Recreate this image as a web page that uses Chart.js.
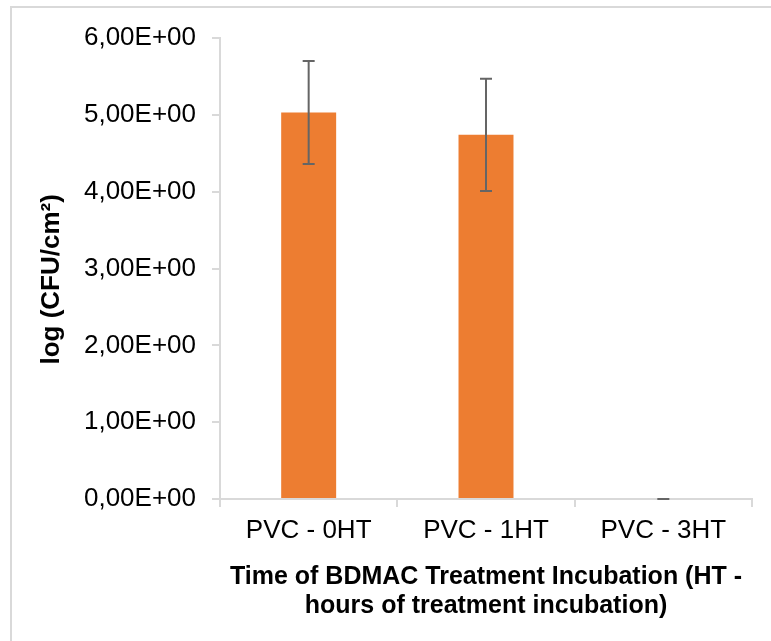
<!DOCTYPE html>
<html>
<head>
<meta charset="utf-8">
<script src="https://cdn.jsdelivr.net/npm/chart.js@4.4.0/dist/chart.umd.min.js"></script>
<style>
  html, body { margin: 0; padding: 0; background: #fff; }
  .wrap { position: relative; width: 771px; height: 641px; overflow: hidden; }
  .frame { position: absolute; left: 10px; top: 6px; width: 900px; height: 800px;
           border-left: 2px solid #d9d9d9; border-top: 2px solid #d9d9d9; }
  canvas { position: absolute; left: 0; top: 0; }
</style>
</head>
<body>
<div class="wrap">
  <div class="frame"></div>
  <canvas id="cfuChart" width="771" height="641"></canvas>
</div>
<script>
const categories = ["PVC - 0HT", "PVC - 1HT", "PVC - 3HT"];
const logCfu = [5.03, 4.74, 0];
const stdErr = [0.67, 0.73, 0];
const yTicks = [0, 1, 2, 3, 4, 5, 6];

const axisGray = "#d9d9d9";
const font = "'Liberation Sans', Arial, sans-serif";

// excel style scientific label, e.g. 5,00E+00
function sci(v) {
  let e = v === 0 ? 0 : Math.floor(Math.log10(Math.abs(v)));
  let m = v / Math.pow(10, e);
  let sign = e < 0 ? "-" : "+";
  let exp = String(Math.abs(e)).padStart(2, "0");
  return m.toFixed(2).replace(".", ",") + "E" + sign + exp;
}

// whiskers on top of the bars
const errorBars = {
  id: "errorBars",
  afterDatasetsDraw(chart) {
    const ctx = chart.ctx;
    const y = chart.scales.y;
    const meta = chart.getDatasetMeta(0);
    ctx.save();
    ctx.strokeStyle = "#656565";
    ctx.lineWidth = 2;
    meta.data.forEach((bar, i) => {
      const top = y.getPixelForValue(logCfu[i] + stdErr[i]);
      const bot = y.getPixelForValue(logCfu[i] - stdErr[i]);
      const half = 6;
      ctx.beginPath();
      ctx.moveTo(bar.x, top);
      ctx.lineTo(bar.x, bot);
      ctx.moveTo(bar.x - half, top);
      ctx.lineTo(bar.x + half, top);
      ctx.moveTo(bar.x - half, bot);
      ctx.lineTo(bar.x + half, bot);
      ctx.stroke();
    });
    ctx.restore();
  },
};

new Chart(document.getElementById("cfuChart"), {
  type: "bar",
  data: {
    labels: categories,
    datasets: [
      {
        data: logCfu,
        backgroundColor: "#ED7D31",
        barPercentage: 0.31,
        categoryPercentage: 1,
      },
    ],
  },
  options: {
    responsive: false,
    animation: false,
    layout: { padding: { top: 38, right: 19, left: 0, bottom: 0 } },
    plugins: { legend: { display: false }, tooltip: { enabled: false } },
    scales: {
      x: {
        afterFit: (axis) => { axis.height = 142; },
        border: { color: axisGray, width: 2 },
        grid: { drawOnChartArea: false, color: axisGray, tickLength: 8, lineWidth: 2 },
        ticks: { color: "#000", padding: 8, font: { family: font, size: 26 } },
        title: {
          display: true,
          text: ["Time of BDMAC Treatment Incubation (HT -", "hours of treatment incubation)"],
          color: "#000",
          font: { family: font, size: 25, weight: "bold", lineHeight: 1.16 },
          padding: { top: 0, bottom: 20 },
        },
      },
      y: {
        min: 0,
        max: 6,
        afterFit: (axis) => { axis.width = 220; },
        afterBuildTicks: (axis) => { axis.ticks = yTicks.map((v) => ({ value: v })); },
        border: { color: axisGray, width: 2 },
        grid: { drawOnChartArea: false, color: axisGray, tickLength: 8, lineWidth: 2 },
        ticks: {
          color: "#000",
          padding: 16,
          font: { family: font, size: 26 },
          callback: (v) => sci(v),
        },
        title: {
          display: true,
          // trailing spaces nudge the rotated title down a little
          text: "log (CFU/cm²)\u00a0\u00a0\u00a0",
          color: "#000",
          font: { family: font, size: 26, weight: "bold", lineHeight: 1.2 },
          padding: { top: 36, bottom: 0 },
        },
      },
    },
  },
  plugins: [errorBars],
});
</script>
</body>
</html>
